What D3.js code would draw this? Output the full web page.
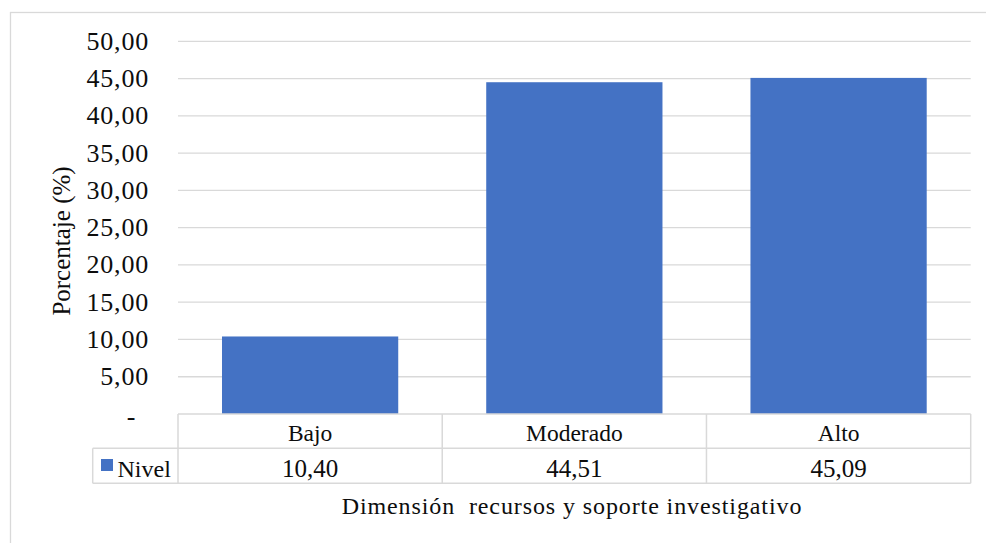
<!DOCTYPE html>
<html>
<head>
<meta charset="utf-8">
<script src="https://cdn.jsdelivr.net/npm/d3@7"></script>
<style>
  html, body { margin: 0; padding: 0; background: #fff; }
  svg { display: block; }
</style>
</head>
<body>
<svg id="chart" width="986" height="543"></svg>
<script>
const categories = ["Bajo", "Moderado", "Alto"];
const values = [10.40, 44.51, 45.09];
const valueLabels = ["10,40", "44,51", "45,09"];
const seriesName = "Nivel";
const yTicks = [0, 5, 10, 15, 20, 25, 30, 35, 40, 45, 50];
const yTickLabels = ["-", "5,00", "10,00", "15,00", "20,00", "25,00", "30,00", "35,00", "40,00", "45,00", "50,00"];
const yTitle = "Porcentaje (%)";
const xTitle = "Dimensión  recursos y soporte investigativo";

const FONT = "'Liberation Serif'";
const svg = d3.select("#chart");
const plot = { left: 178, right: 970.7, top: 41.3, bottom: 414 };
const gridColor = "#d9d9d9";
const barColor = "#4472C4";
const textColor = "#0d0d0d";

// outer chart border
svg.append("rect").attr("x", 10.5).attr("y", 12.5).attr("width", 1000).attr("height", 600)
  .attr("fill", "none").attr("stroke", gridColor).attr("stroke-width", 1.3);

const x = d3.scaleBand().domain(categories).range([plot.left, plot.right]).paddingInner(0.333).paddingOuter(0.1665);
const xCells = d3.scaleBand().domain(categories).range([plot.left, plot.right]).padding(0);
const y = d3.scaleLinear().domain([0, 50]).range([plot.bottom, plot.top]);

function txt(sel, fs) {
  return sel.style("font-family", FONT).attr("font-size", fs).attr("fill", textColor);
}

// gridlines
svg.append("g").selectAll("line").data(yTicks.filter(t => t > 0)).join("line")
  .attr("x1", plot.left).attr("x2", plot.right)
  .attr("y1", d => y(d)).attr("y2", d => y(d))
  .attr("stroke", gridColor).attr("stroke-width", 1.3);

// y tick labels
txt(svg.append("g").selectAll("text").data(yTicks).join("text"), 26)
  .attr("x", d => d === 0 ? 131 : 149)
  .attr("y", d => d === 0 ? y(d) + 11 : y(d) + 8.5)
  .attr("text-anchor", d => d === 0 ? "middle" : "end")
  .attr("letter-spacing", d => d === 0 ? 0 : 0.8)
  .text((d, i) => yTickLabels[i]);

// bars
svg.append("g").selectAll("rect").data(values).join("rect")
  .attr("x", (d, i) => x(categories[i]))
  .attr("width", x.bandwidth())
  .attr("y", d => y(d))
  .attr("height", d => y(0) - y(d))
  .attr("fill", barColor);

// data table
const rowTop = plot.bottom, rowMid = 448.3, rowBot = 483.3, legendLeft = 92.7;
const tg = svg.append("g").attr("stroke", gridColor).attr("stroke-width", 1.5);
tg.append("line").attr("x1", plot.left).attr("x2", plot.right).attr("y1", rowTop).attr("y2", rowTop);
tg.append("line").attr("x1", legendLeft).attr("x2", plot.right).attr("y1", rowMid).attr("y2", rowMid);
tg.append("line").attr("x1", legendLeft).attr("x2", plot.right).attr("y1", rowBot).attr("y2", rowBot);
tg.append("line").attr("x1", legendLeft).attr("x2", legendLeft).attr("y1", rowMid).attr("y2", rowBot);
const vxs = categories.map(c => xCells(c)).concat([plot.right]);
tg.selectAll("line.v").data(vxs).join("line").attr("class", "v")
  .attr("x1", d => d).attr("x2", d => d).attr("y1", rowTop).attr("y2", rowBot);

// category labels
txt(svg.append("g").selectAll("text").data(categories).join("text"), 23.5)
  .attr("x", d => xCells(d) + xCells.bandwidth() / 2)
  .attr("y", 440.5)
  .attr("text-anchor", "middle")
  .text(d => d);

// value labels
txt(svg.append("g").selectAll("text").data(valueLabels).join("text"), 25)
  .attr("x", (d, i) => xCells(categories[i]) + xCells.bandwidth() / 2)
  .attr("y", 476.5)
  .attr("text-anchor", "middle")
  .text(d => d);

// legend key
svg.append("rect").attr("x", 101).attr("y", 459).attr("width", 12).attr("height", 12).attr("fill", barColor);
txt(svg.append("text"), 24).attr("x", 117.5).attr("y", 476.5).text(seriesName);

// axis titles
txt(svg.append("text"), 25)
  .attr("transform", `translate(70,241) rotate(-90)`)
  .attr("text-anchor", "middle")
  .text(yTitle);

txt(svg.append("text"), 24)
  .attr("x", 572)
  .attr("y", 514)
  .attr("text-anchor", "middle")
  .attr("letter-spacing", 0.9)
  .style("white-space", "pre")
  .text(xTitle);
</script>
</body>
</html>
